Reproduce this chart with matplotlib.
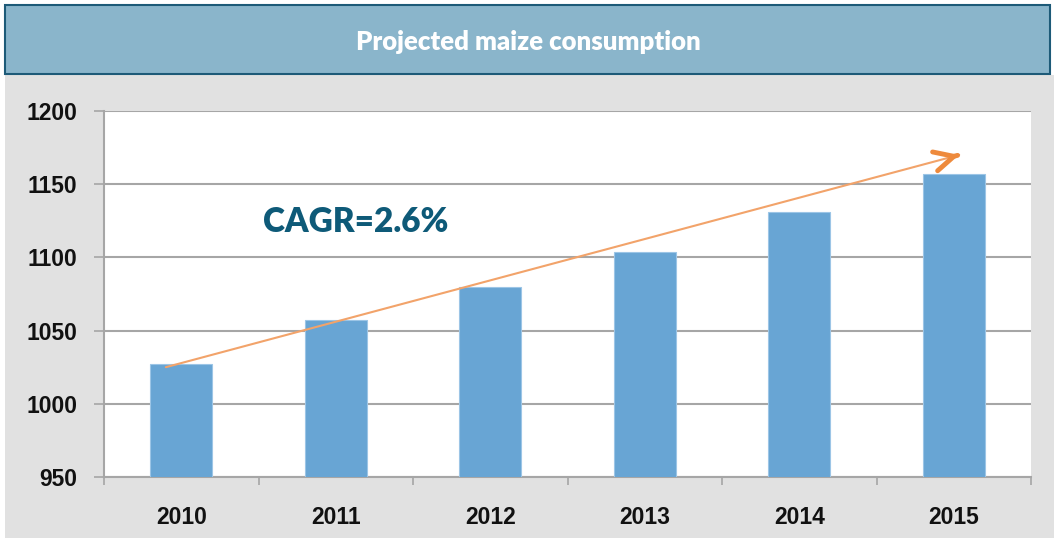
import numpy as np
import matplotlib.pyplot as plt
from matplotlib.patches import Rectangle

years = ["2010", "2011", "2012", "2013", "2014", "2015"]
consumption = [1027, 1057, 1080, 1104, 1131, 1157]
y_ticks = [950, 1000, 1050, 1100, 1150, 1200]
title = "Projected maize consumption"
cagr_label = "CAGR=2.6%"

W, H = 1054, 538
fig = plt.figure(figsize=(W / 100, H / 100), dpi=100)
fig.patch.set_facecolor("white")

# grey panel and title bar
fig.patches.append(Rectangle((5 / W, 0), 1 - 5 / W, 1 - 75 / H,
                             transform=fig.transFigure, facecolor="#e1e1e1",
                             edgecolor="none", zorder=-2))
fig.patches.append(Rectangle((5 / W, 1 - 74 / H), 1045 / W, 69 / H,
                             transform=fig.transFigure, facecolor="#8ab5cb",
                             edgecolor="#1d5a78", lw=1.5, zorder=-1))
fig.text(528 / W, 1 - 42 / H, title, color="white", fontsize=18.5,
         fontweight="heavy", family="Lato", ha="center", va="center")

ax = fig.add_axes([104 / W, 1 - 477 / H, (1031 - 104) / W, (477 - 111) / H])
ax.set_zorder(2)
ax.set_facecolor("white")

x = np.arange(len(years))
ax.bar(x, consumption, width=0.4, bottom=0, color="#68a5d4",
       edgecolor="#9cc5e6", lw=0.8, zorder=3)

ax.set_xlim(-0.5, len(years) - 0.5)
ax.set_ylim(y_ticks[0], y_ticks[-1])
ax.set_yticks(y_ticks)
ax.grid(axis="y", color="#a6a6a6", lw=1.5, zorder=1)

for side in ["top", "right"]:
    ax.spines[side].set_visible(False)
ax.spines["left"].set_color("#a6a6a6")
ax.spines["bottom"].set_color("#a6a6a6")
ax.spines["left"].set_linewidth(1.5)
ax.spines["bottom"].set_linewidth(1.5)

ax.set_xticks(x)
ax.set_xticklabels(years)
ax.set_xticks(np.arange(len(years) + 1) - 0.5, minor=True)
ax.tick_params(axis="x", which="major", length=0, pad=21)
ax.tick_params(axis="x", which="minor", length=6, color="#a6a6a6", width=1.2)
ax.tick_params(axis="y", length=7, color="#a6a6a6", width=1.2, pad=12)
for lab in ax.get_xticklabels() + ax.get_yticklabels():
    lab.set_family("Liberation Sans")
    lab.set_fontweight("bold")
    lab.set_fontsize(16.5)
    lab.set_color("#111111")

# trend arrow
start = (x[0] - 0.1, consumption[0] - 2)
end = (x[-1] + 0.035, consumption[-1] + 13)
ax.plot([start[0], end[0]], [start[1], end[1]], color="#f2a36a", lw=1.5,
        zorder=4, solid_capstyle="round")
dx, dy = end[0] - start[0], end[1] - start[1]
ax.annotate("", xy=end, xytext=(end[0] - dx * 0.002, end[1] - dy * 0.002),
            arrowprops=dict(arrowstyle="->,head_length=1.4,head_width=0.7",
                            color="#ee8a3c", lw=3.5, shrinkA=0, shrinkB=0),
            zorder=5)

ax.text(1.13, 1124, cagr_label, color="#0e5a78", fontsize=24,
        fontweight="heavy", family="Lato", ha="center", va="center", zorder=5)

fig.savefig("out.png", dpi=100)
